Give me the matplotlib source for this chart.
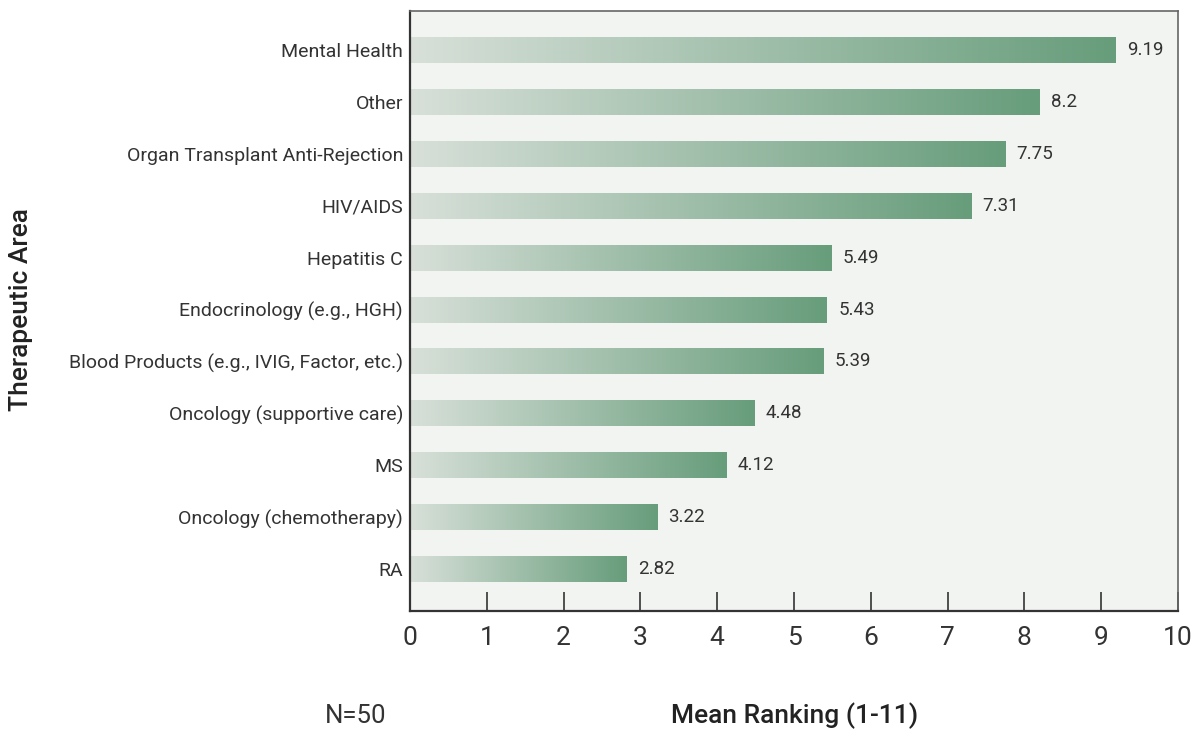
import numpy as np
import matplotlib
matplotlib.use("Agg")
import matplotlib.pyplot as plt
from matplotlib.colors import LinearSegmentedColormap

# data, bottom to top
areas = ["RA", "Oncology (chemotherapy)", "MS", "Oncology (supportive care)",
         "Blood Products (e.g., IVIG, Factor, etc.)", "Endocrinology (e.g., HGH)",
         "Hepatitis C", "HIV/AIDS", "Organ Transplant Anti-Rejection", "Other",
         "Mental Health"]
rankings = [2.82, 3.22, 4.12, 4.48, 5.39, 5.43, 5.49, 7.31, 7.75, 8.2, 9.19]
value_labels = ["2.82", "3.22", "4.12", "4.48", "5.39", "5.43", "5.49",
                "7.31", "7.75", "8.2", "9.19"]
x_ticks = list(range(0, 11))

plt.rcParams['font.family'] = ['Roboto', 'DejaVu Sans']
text_col = "#333333"

fig = plt.figure(figsize=(11.93, 7.31), dpi=100)
ax = fig.add_axes([0.3437, 0.1646, 0.9874 - 0.3437, 0.985 - 0.1646])
ax.set_facecolor("#f2f4f1")

cmap = LinearSegmentedColormap.from_list("grad", ["#d8e0d9", "#679d7b"])
grad = np.linspace(0, 1, 256).reshape(1, -1)

y = np.arange(len(areas))
bars = ax.barh(y, rankings, height=0.5, facecolor="none", edgecolor="none")
for bar, lab in zip(bars, value_labels):
    x0, y0 = bar.get_x(), bar.get_y()
    w, h = bar.get_width(), bar.get_height()
    im = ax.imshow(grad, cmap=cmap, aspect="auto",
                   extent=[x0, x0 + w, y0, y0 + h], zorder=2)
    im.set_clip_path(bar)
    ax.annotate(lab, (x0 + w, y0 + h / 2), xytext=(8, 0),
                textcoords="offset points", va="center", ha="left",
                fontsize=13.5, color=text_col)

ax.set_xlim(0, 10)
ax.set_ylim(-0.8, 10.75)
ax.set_xticks(x_ticks)
ax.set_xticklabels([str(t) for t in x_ticks], fontsize=19, color=text_col)
ax.set_yticks(y)
ax.set_yticklabels(areas, fontsize=14, color=text_col)
ax.tick_params(axis="x", direction="in", length=14, width=1.2,
               color="#333333", pad=11)
ax.tick_params(axis="y", length=0, pad=5)
for sp in ax.spines.values():
    sp.set_color("#333333")
    sp.set_linewidth(1.2)
ax.spines["left"].set_linewidth(1.6)
ax.spines["bottom"].set_linewidth(1.6)
ax.spines["top"].set_color("#666666")
ax.spines["right"].set_color("#666666")

fig.text(0.018, 0.576, "Therapeutic Area", rotation=90, ha="center",
         va="center", fontsize=19, color="#222222", fontweight="medium")
fig.text(0.666, 0.0205, "Mean Ranking (1-11)", ha="center", va="center",
         fontsize=19, color="#222222", fontweight="medium")
fig.text(0.298, 0.0205, "N=50", ha="center", va="center",
         fontsize=18.5, color=text_col)

fig.savefig("out.png", dpi=100)
